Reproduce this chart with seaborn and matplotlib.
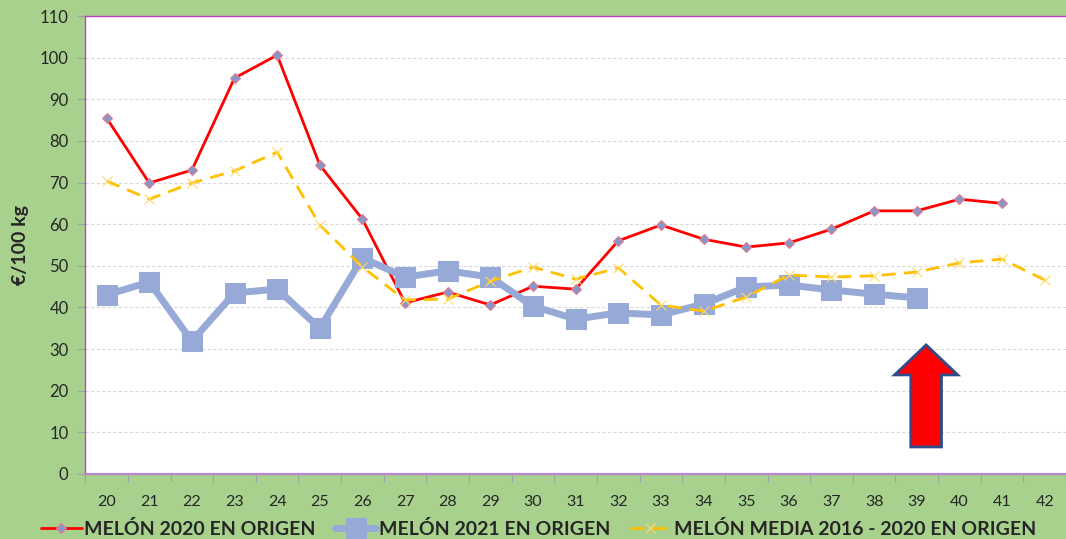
import matplotlib
matplotlib.use("Agg")
import matplotlib.pyplot as plt
import numpy as np
import pandas as pd
import seaborn as sns
from matplotlib.patches import Polygon
from matplotlib.ticker import MultipleLocator

# weeks (semanas) on the x axis
weeks = list(range(20, 43))

# €/100 kg
melon_2020 = [85.5, 69.9, 73.0, 95.1, 100.6, 74.2, 61.2, 41.1, 43.7, 40.6, 45.1,
              44.4, 56.0, 59.8, 56.4, 54.5, 55.5, 58.8, 63.2, 63.2, 66.0, 65.0]
melon_2021 = [43.0, 46.1, 31.9, 43.5, 44.4, 35.0, 51.9, 47.3, 48.8, 47.3, 40.3,
              37.2, 38.7, 38.2, 40.8, 44.9, 45.4, 44.2, 43.2, 42.3]
melon_media = [70.4, 66.0, 69.9, 72.8, 77.3, 59.8, 49.7, 41.8, 42.0, 46.3, 49.7,
               46.8, 49.5, 40.6, 39.1, 42.5, 47.8, 47.3, 47.6, 48.5, 50.7, 51.6, 46.6]

labels = ["MELÓN 2020 EN ORIGEN", "MELÓN 2021 EN ORIGEN",
          "MELÓN MEDIA 2016 - 2020 EN ORIGEN"]

BG = "#a9d18e"
PURPLE = "#c040c8"

sns.set_theme(style="white")
plt.rcParams["font.family"] = ["Lato", "DejaVu Sans"]

fig = plt.figure(figsize=(10.66, 5.39), dpi=100, facecolor=BG)
ax = fig.add_axes([0.080, 0.1206, 0.920, 0.8497])
ax.set_facecolor("white")

pos = np.arange(len(weeks))

sns.lineplot(x=pos[:len(melon_2020)], y=melon_2020, ax=ax, color="#ff0000",
             lw=2, marker="D", markersize=5.5, markerfacecolor="#8497c8",
             markeredgecolor="#e87a8a", markeredgewidth=0.8, label=labels[0])
sns.lineplot(x=pos[:len(melon_2021)], y=melon_2021, ax=ax, color="#97a9d6",
             lw=5, marker="s", markersize=14, markerfacecolor="#97a9d6",
             markeredgecolor="#97a9d6", label=labels[1])
sns.lineplot(x=pos, y=melon_media, ax=ax, color="#ffc000", lw=2,
             linestyle=(0, (5, 3)), marker="x", markersize=7,
             markeredgecolor="#ffd966", markeredgewidth=0.8, label=labels[2])

ax.set_xlim(-0.5, len(weeks) - 0.5)
ax.set_ylim(0, 110)
ax.yaxis.set_major_locator(MultipleLocator(10))
ax.set_xticks(pos)
ax.set_xticklabels([str(w) for w in weeks], fontsize=11.5)
ax.set_xticks(np.arange(-0.5, len(weeks)), minor=True)
ax.tick_params(axis="x", which="major", length=0, pad=15)
ax.tick_params(axis="x", which="minor", length=6, color="#a0a0a0", width=0.8)
ax.tick_params(axis="y", length=6, color="#a0a0a0", width=0.8, labelsize=12, pad=6)
ax.yaxis.set_ticks_position("left")
ax.xaxis.set_ticks_position("bottom")
ax.grid(axis="y", color="#d9d9d9", linestyle=(0, (3, 2)), lw=0.8)
ax.set_axisbelow(True)

for side in ["left", "top", "bottom"]:
    ax.spines[side].set_visible(True)
    ax.spines[side].set_color(PURPLE)
    ax.spines[side].set_linewidth(1.0)
ax.spines["bottom"].set_color("#b888cc")
ax.spines["bottom"].set_linewidth(1.6)
ax.spines["right"].set_visible(False)

ax.set_xlabel("")
ax.set_ylabel("€/100 kg", fontsize=14, fontweight="bold", labelpad=8)

# red upward arrow annotation
ax_x = 19.22
arrow = Polygon([(ax_x, 31.0), (ax_x + 0.74, 23.8), (ax_x + 0.36, 23.8),
                 (ax_x + 0.36, 6.5), (ax_x - 0.36, 6.5), (ax_x - 0.36, 23.8),
                 (ax_x - 0.74, 23.8)], closed=True, facecolor="#ff0000",
                edgecolor="#2f4b8a", lw=2, zorder=5)
ax.add_patch(arrow)

handles, lbls = ax.get_legend_handles_labels()
ax.get_legend().remove()
fig.legend(handles, lbls, loc="lower center", bbox_to_anchor=(0.505, -0.03),
           ncol=3, frameon=False, columnspacing=1.0, handlelength=2.1,
           handletextpad=0.15, prop={"weight": "bold", "size": 14})

fig.savefig("out.png", dpi=100, facecolor=BG)
